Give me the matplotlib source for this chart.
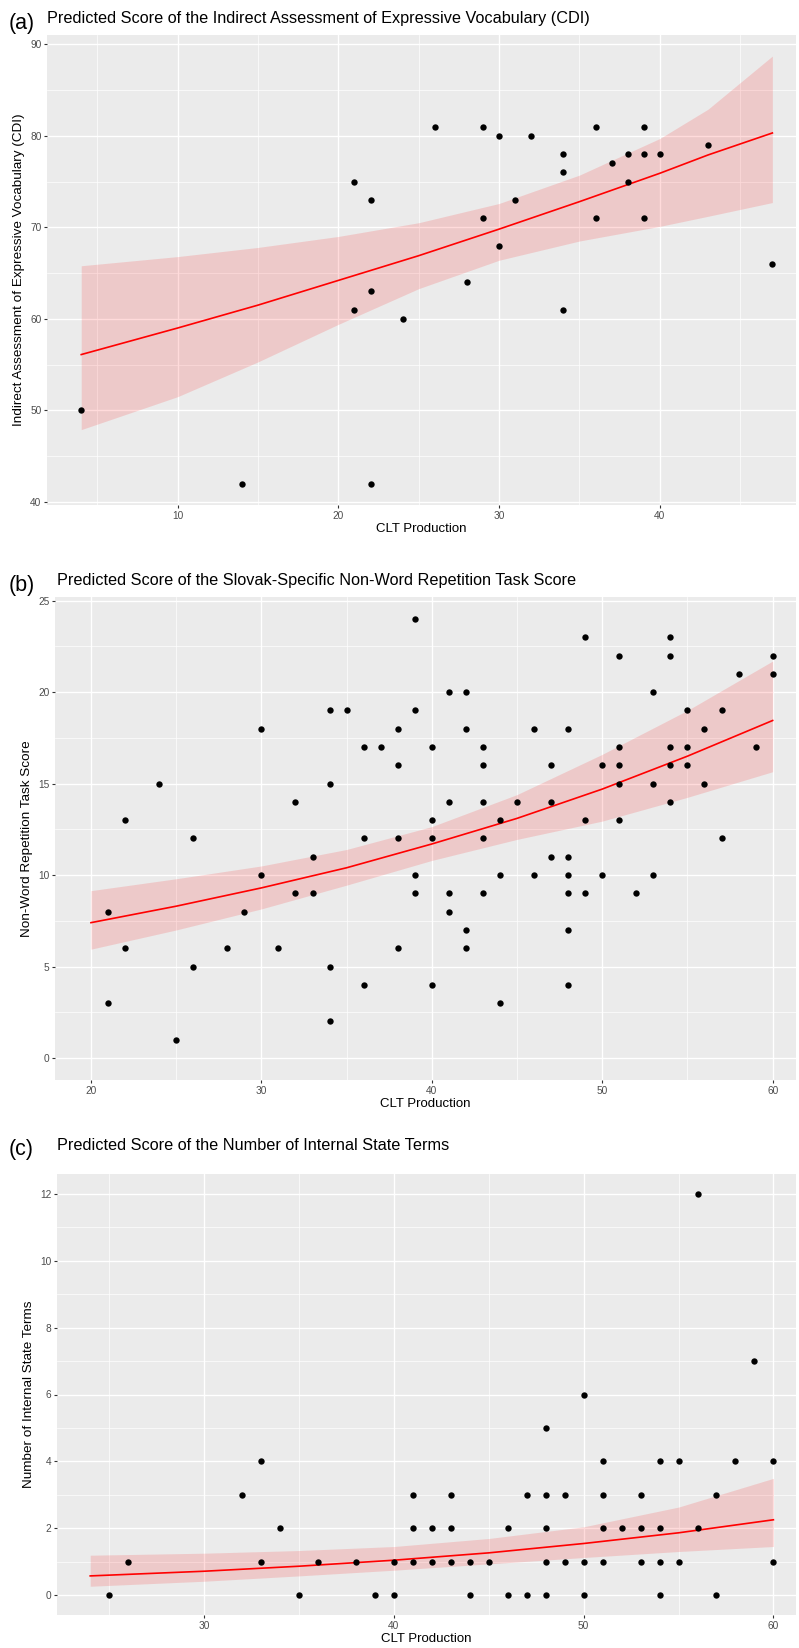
import numpy as np
import matplotlib
matplotlib.use('Agg')
import matplotlib.pyplot as plt
from matplotlib.ticker import MultipleLocator

plt.rcParams['font.family'] = ['Liberation Sans', 'DejaVu Sans']

W, H = 799, 1648

# (a) CDI vs CLT production
a_x = [4, 14, 21, 21, 22, 22, 22, 24, 26, 28, 29, 29, 30, 30, 31, 32,
       34, 34, 34, 36, 36, 37, 38, 38, 39, 39, 39, 40, 43, 47]
a_y = [50, 42, 75, 61, 73, 63, 42, 60, 81, 64, 81, 71, 80, 68, 73, 80,
       78, 76, 61, 81, 71, 77, 78, 75, 81, 78, 71, 78, 79, 66]
a_fit_x = [4, 10, 15, 20, 25, 30, 35, 40, 43, 47]
a_fit = [56.1, 59.0, 61.5, 64.2, 66.9, 69.8, 72.8, 75.9, 77.9, 80.3]
a_lo = [47.9, 51.5, 55.3, 59.4, 63.3, 66.4, 68.5, 70.1, 71.2, 72.7]
a_hi = [65.8, 66.8, 67.8, 69.0, 70.5, 72.6, 75.7, 79.7, 82.9, 88.7]

# (b) non-word repetition vs CLT production
b_x = [21, 21, 22, 22, 24, 25, 26, 26, 28, 29, 30, 30, 31, 32, 32, 33, 33,
       34, 34, 34, 34, 35, 36, 36, 36, 37, 38, 38, 38, 38, 39, 39, 39, 39,
       40, 40, 40, 40, 41, 41, 41, 41, 42, 42, 42, 42, 43, 43, 43, 43, 43,
       44, 44, 44, 45, 46, 46, 47, 47, 47, 48, 48, 48, 48, 48, 48, 49, 49, 49,
       50, 50, 51, 51, 51, 51, 51, 52, 53, 53, 53, 54, 54, 54, 54, 54,
       55, 55, 55, 56, 56, 57, 57, 58, 59, 60, 60]
b_y = [8, 3, 13, 6, 15, 1, 12, 5, 6, 8, 18, 10, 6, 14, 9, 11, 9,
       19, 15, 5, 2, 19, 17, 12, 4, 17, 18, 16, 12, 6, 24, 19, 10, 9,
       17, 13, 12, 4, 20, 14, 9, 8, 20, 18, 7, 6, 17, 16, 14, 12, 9,
       13, 10, 3, 14, 18, 10, 16, 14, 11, 18, 11, 10, 9, 7, 4, 23, 13, 9,
       16, 10, 22, 17, 16, 15, 13, 9, 20, 15, 10, 23, 22, 17, 16, 14,
       19, 17, 16, 18, 15, 19, 12, 21, 17, 22, 21]
b_fit_x = [20, 25, 30, 35, 40, 45, 50, 55, 60]
b_fit = [7.4, 8.3, 9.3, 10.4, 11.7, 13.1, 14.7, 16.5, 18.45]
b_lo = [5.95, 7.0, 8.15, 9.45, 10.8, 11.95, 12.95, 14.25, 15.65]
b_hi = [9.15, 9.8, 10.5, 11.4, 12.65, 14.4, 16.6, 19.0, 21.7]

# (c) internal state terms vs CLT production
c_x = [25, 26, 32, 33, 33, 34, 35, 36, 38, 39, 40, 40, 41, 41, 41, 42, 42,
       43, 43, 43, 44, 44, 45, 46, 46, 47, 47, 48, 48, 48, 48, 48, 49, 49,
       50, 50, 50, 51, 51, 51, 51, 52, 53, 53, 53, 54, 54, 54, 54, 55, 55,
       56, 56, 57, 57, 58, 59, 60, 60]
c_y = [0, 1, 3, 4, 1, 2, 0, 1, 1, 0, 1, 0, 3, 2, 1, 2, 1,
       3, 2, 1, 1, 0, 1, 2, 0, 3, 0, 5, 3, 2, 1, 0, 3, 1,
       6, 1, 0, 4, 3, 2, 1, 2, 3, 2, 1, 4, 2, 1, 0, 4, 1,
       12, 2, 3, 0, 4, 7, 4, 1]
c_fit_x = [24, 30, 35, 40, 45, 50, 55, 60]
c_fit = [0.57, 0.71, 0.86, 1.04, 1.26, 1.54, 1.86, 2.25]
c_lo = [0.26, 0.41, 0.57, 0.74, 0.93, 1.12, 1.30, 1.45]
c_hi = [1.19, 1.25, 1.33, 1.45, 1.69, 2.04, 2.63, 3.49]


fig = plt.figure(figsize=(W / 100, H / 100), dpi=100)


def make_axes(left, right, top, bottom):
    return fig.add_axes([left / W, 1 - bottom / H, (right - left) / W, (bottom - top) / H])


def panel(ax, x, y, fx, fit, lo, hi, xlim, ylim, xmaj, ymaj, ylabel):
    ax.set_facecolor('#EBEBEB')
    ax.fill_between(fx, lo, hi, color='red', alpha=0.14, linewidth=0, zorder=2)
    ax.plot(fx, fit, color='red', lw=1.2, zorder=3)
    ax.scatter(x, y, s=21, color='black', linewidths=0, zorder=4)
    ax.set_xlim(*xlim)
    ax.set_ylim(*ylim)
    ax.xaxis.set_major_locator(MultipleLocator(xmaj))
    ax.xaxis.set_minor_locator(MultipleLocator(xmaj / 2))
    ax.yaxis.set_major_locator(MultipleLocator(ymaj))
    ax.yaxis.set_minor_locator(MultipleLocator(ymaj / 2))
    ax.grid(which='major', color='white', lw=1.0, zorder=1)
    ax.grid(which='minor', color='white', lw=0.5, zorder=1)
    ax.set_axisbelow(True)
    for s in ax.spines.values():
        s.set_visible(False)
    ax.tick_params(which='major', length=2.5, width=0.8, color='#333333',
                   labelsize=7.3, labelcolor='#4D4D4D', pad=1.5)
    ax.tick_params(which='minor', length=0)
    ax.set_xlabel('CLT Production', fontsize=9.5, labelpad=2)
    ax.set_ylabel(ylabel, fontsize=9.7, labelpad=4)


ax1 = make_axes(47, 796, 35, 505)
panel(ax1, a_x, a_y, a_fit_x, a_fit, a_lo, a_hi, (1.87, 48.47), (39.67, 91.0), 10, 10,
      'Indirect Assessment of Expressive Vocabulary (CDI)')
ax1.set_yticks([40, 50, 60, 70, 80, 90])

ax2 = make_axes(55, 796, 597, 1080)
panel(ax2, b_x, b_y, b_fit_x, b_fit, b_lo, b_hi, (17.89, 61.37), (-1.2, 25.2), 10, 5,
      'Non-Word Repetition Task Score')

ax3 = make_axes(57, 796, 1174, 1615)
panel(ax3, c_x, c_y, c_fit_x, c_fit, c_lo, c_hi, (22.25, 61.19), (-0.6, 12.6), 10, 2,
      'Number of Internal State Terms')

titles = [
    ('(a)', 'Predicted Score of the Indirect Assessment of Expressive Vocabulary (CDI)', 19, 47),
    ('(b)', 'Predicted Score of the Slovak-Specific Non-Word Repetition Task Score', 581, 57),
    ('(c)', 'Predicted Score of the Number of Internal State Terms', 1146, 57),
]
for tag, title, ty, tx in titles:
    fig.text(9 / W, 1 - (ty + 4) / H, tag, fontsize=15.5, va='center', ha='left')
    fig.text(tx / W, 1 - ty / H, title, fontsize=11.7, va='center', ha='left')

fig.savefig('out.png', dpi=100)
